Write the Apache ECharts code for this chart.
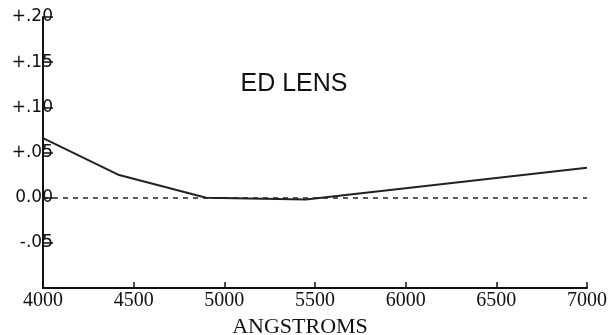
<!DOCTYPE html>
<html lang="en">
<head>
<meta charset="UTF-8">
<title>ED LENS</title>
<style>
    html, body { margin: 0; padding: 0; background: #fff; }
    #echart { width: 608px; height: 335px; }
</style>
</head>
<body>
<div id="echart"></div>
<script src="https://cdn.jsdelivr.net/npm/echarts@6/dist/echarts.min.js"></script>
<script>
    // wavelength (angstroms) and focus shift
    const wavelengths = [4000, 4420, 4900, 5450, 7000]
    const focusShift = [0.066, 0.025, 0.0, -0.002, 0.033]
    // y tick labels from -0.10 upward, step 0.05
    const yTickLabels = ['', '-.05', '0.00', '+.05', '+.10', '+.15', '+.20']

    const chart = echarts.init(document.getElementById('echart'))

    chart.setOption({
        animation: false,
        title: {
            text: 'ED LENS',
            left: 289,
            top: 67,
            textAlign: 'center',
            textStyle: { fontFamily: 'Liberation Sans', fontSize: 25, fontWeight: 'normal', color: '#111' }
        },
        grid: { left: 43, right: 21, top: 17, bottom: 47, outerBoundsMode: 'none' },
        xAxis: {
            type: 'value',
            min: 4000,
            max: 7000,
            interval: 500,
            name: 'ANGSTROMS',
            nameLocation: 'middle',
            nameGap: 28,
            nameTextStyle: {
                fontFamily: 'Liberation Serif', fontSize: 22, color: '#111',
                padding: [0, 30, 0, 0]
            },
            axisLine: { onZero: false, lineStyle: { color: '#111', width: 2 } },
            axisTick: { inside: true, length: 6, lineStyle: { color: '#111', width: 1.5 } },
            axisLabel: {
                fontFamily: 'Liberation Serif', fontSize: 20, color: '#111', margin: 3,
                formatter: v => String(v)
            },
            splitLine: { show: false }
        },
        yAxis: {
            type: 'value',
            min: -0.1,
            max: 0.2,
            interval: 0.05,
            axisLine: { show: true, lineStyle: { color: '#111', width: 2 } },
            axisTick: { show: true, inside: true, length: 10, lineStyle: { color: '#111', width: 1.5 } },
            axisLabel: {
                fontFamily: 'DejaVu Sans', fontSize: 17, color: '#111', margin: -10,
                formatter: v => yTickLabels[Math.round((v + 0.1) / 0.05)] || ''
            },
            splitLine: { show: false }
        },
        series: [{
            type: 'line',
            data: wavelengths.map((w, i) => [w, focusShift[i]]),
            symbol: 'none',
            lineStyle: { color: '#222', width: 2 },
            markLine: {
                silent: true,
                symbol: 'none',
                label: { show: false },
                lineStyle: { color: '#222', width: 1.5, type: [5, 5] },
                data: [{ yAxis: 0 }]
            }
        }]
    })
</script>
</body>
</html>
